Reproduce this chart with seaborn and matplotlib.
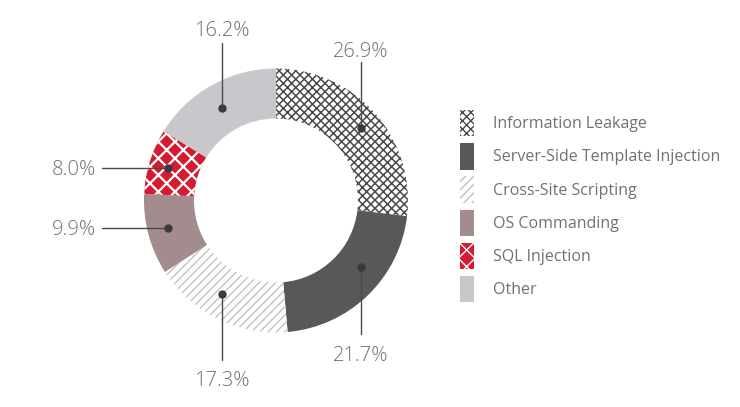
import matplotlib
matplotlib.use("Agg")
import matplotlib.pyplot as plt
import seaborn as sns

# chart data
categories = ["Information Leakage", "Server-Side Template Injection",
              "Cross-Site Scripting", "OS Commanding", "SQL Injection", "Other"]
shares = [26.9, 21.7, 17.3, 9.9, 8.0, 16.2]

# look of each wedge: face colour, hatch, hatch colour
faces = ["white", "#58585a", "white", "#a28c8d", "#d51b32", "#c8c8cc"]
hatches = ["xxxx", None, "////", None, "xx", None]
hatch_colors = ["#4a4a4c", "#58585a", "#bdbec1", "#a28c8d", "white", "#c8c8cc"]
hatch_widths = [1.1, 1.0, 0.9, 1.0, 1.6, 1.0]

# callouts in pixel coords (x, y from top): dot, line end, text anchor, alignment
callouts = [
    ((361, 128), (361, 62), (361, 57), "center"),
    ((361, 267), (361, 334), (361, 361), "center"),
    ((222, 294), (222, 360), (222, 386), "center"),
    ((168, 228), (102, 228), (96, 235), "right"),
    ((168, 168), (102, 168), (96, 175), "right"),
    ((222, 108), (222, 43), (222, 36), "center"),
]

sns.set_theme(style="white")
plt.rcParams["font.family"] = ["Open Sans", "DejaVu Sans"]
plt.rcParams["hatch.linewidth"] = 1.0

W, H = 740, 407
fig = plt.figure(figsize=(W / 100, H / 100), dpi=100)
ax = fig.add_axes([0, 0, 1, 1])


def fy(y):
    return H - y


wedges, _ = ax.pie(shares, startangle=90, counterclock=False,
                   radius=132, center=(276, fy(200.5)),
                   colors=faces, wedgeprops=dict(width=50, linewidth=0))
for w, h, hc, hw in zip(wedges, hatches, hatch_colors, hatch_widths):
    w.set_edgecolor(hc)
    if h:
        w.set_hatch(h)
        if hasattr(w, "set_hatch_linewidth"):
            w.set_hatch_linewidth(hw)

ax.set_xlim(0, W)
ax.set_ylim(0, H)
ax.set_aspect("auto")
ax.axis("off")

text_color = "#707173"
for v, (dot, end, txt, ha) in zip(shares, callouts):
    ax.plot([dot[0], end[0]], [fy(dot[1]), fy(end[1])], color="#4a4a4c", lw=1.0)
    ax.plot(dot[0], fy(dot[1]), "o", color="#3a3a3c", ms=5)
    ax.text(txt[0], fy(txt[1]), f"{v:.1f}%", ha=ha, va="baseline",
            fontsize=14.5, color=text_color, fontweight="light")

fs = 11.5
fpx = fs * 100 / 72
ax.legend(wedges, categories, loc="upper left",
          bbox_to_anchor=(460 / W, 1 - 110 / H), bbox_transform=fig.transFigure,
          frameon=False, fontsize=fs, borderpad=0, borderaxespad=0,
          handlelength=14 / fpx, handleheight=2.16,
          labelspacing=0.43, handletextpad=1.2, labelcolor=text_color)

fig.savefig("out.png", dpi=100)
